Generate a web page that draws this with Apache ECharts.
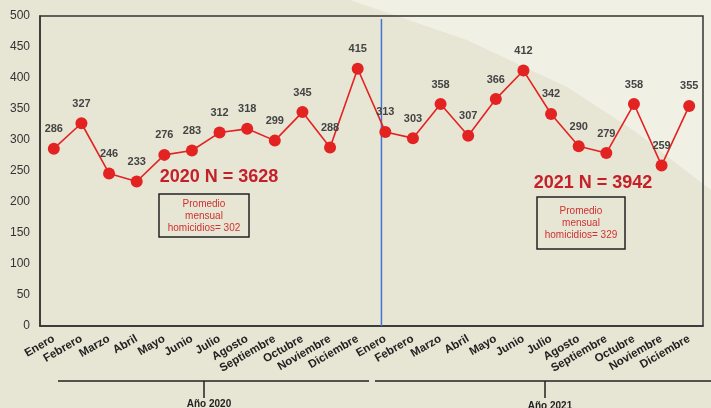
<!DOCTYPE html>
<html>
<head>
<meta charset="utf-8">
<script src="https://cdn.jsdelivr.net/npm/echarts@6/dist/echarts.min.js"></script>
<style>
  html, body { margin: 0; padding: 0; background: #e7e6d4; }
  #chart { width: 711px; height: 408px; }
</style>
</head>
<body>
<div id="chart"></div>
<script>
const months = ['Enero', 'Febrero', 'Marzo', 'Abril', 'Mayo', 'Junio', 'Julio', 'Agosto',
  'Septiembre', 'Octubre', 'Noviembre', 'Diciembre']
const categories = months.concat(months)
const values2020 = [286, 327, 246, 233, 276, 283, 312, 318, 299, 345, 288, 415]
const values2021 = [313, 303, 358, 307, 366, 412, 342, 290, 279, 358, 259, 355]
const homicidios = values2020.concat(values2021)
const yearLabels = ['Año 2020', 'Año 2021']
// separador entre años (posicion en eje auxiliar 0-24)
const dividerX = 12.36

const chart = echarts.init(document.getElementById('chart'))

const txt = (x, y, text, style) => ({
  type: 'text', x, y, z: 10,
  style: Object.assign({ text, fontFamily: 'Liberation Sans, Arial, sans-serif', align: 'center', verticalAlign: 'middle' }, style)
})

chart.setOption({
  backgroundColor: '#e7e6d4',
  animation: false,
  grid: { left: 40, right: 8, top: 16, bottom: 82, show: true, borderColor: '#333', borderWidth: 1.5 },
  xAxis: [
    {
      type: 'category',
      data: categories,
      boundaryGap: true,
      axisLine: { lineStyle: { color: '#333', width: 1.5 } },
      axisTick: { show: false },
      axisLabel: {
        interval: 0, rotate: 30, margin: 12,
        fontFamily: 'Liberation Sans, Arial, sans-serif',
        fontWeight: 'bold', fontSize: 11.5, color: '#222'
      }
    },
    { type: 'value', min: 0, max: 24, show: false }
  ],
  yAxis: {
    type: 'value', min: 0, max: 500, interval: 50,
    axisLine: { show: true, lineStyle: { color: '#333', width: 1.5 } },
    axisTick: { show: false },
    splitLine: { show: false },
    axisLabel: { margin: 10, fontFamily: 'Liberation Sans, Arial, sans-serif', fontSize: 12, color: '#333' }
  },
  graphic: [
    // zona clara del fondo
    {
      type: 'polygon', z: -10, silent: true,
      shape: { points: [[350, 0], [467, 40], [567, 87], [633, 130], [711, 190], [711, 0]] },
      style: { fill: '#f1f0e5' }
    },
    txt(219, 177, '2020 N = 3628', { fontSize: 18, fontWeight: 'bold', fill: '#c4202a' }),
    { type: 'rect', z: 10, shape: { x: 159, y: 194, width: 90, height: 43 }, style: { fill: 'none', stroke: '#222', lineWidth: 1.5 } },
    txt(204, 216, 'Promedio\nmensual\nhomicidios= 302', { fontSize: 10, fill: '#d03030', lineHeight: 12 }),
    txt(593, 183, '2021 N = 3942', { fontSize: 18, fontWeight: 'bold', fill: '#c4202a' }),
    { type: 'rect', z: 10, shape: { x: 537, y: 197, width: 88, height: 52 }, style: { fill: 'none', stroke: '#222', lineWidth: 1.5 } },
    txt(581, 223, 'Promedio\nmensual\nhomicidios= 329', { fontSize: 10, fill: '#d03030', lineHeight: 12 }),
    // llaves de año
    { type: 'line', shape: { x1: 58, y1: 381, x2: 369, y2: 381 }, style: { stroke: '#222', lineWidth: 1.5 } },
    { type: 'line', shape: { x1: 375, y1: 381, x2: 711, y2: 381 }, style: { stroke: '#222', lineWidth: 1.5 } },
    { type: 'line', shape: { x1: 204, y1: 381, x2: 204, y2: 398 }, style: { stroke: '#222', lineWidth: 1.5 } },
    { type: 'line', shape: { x1: 545, y1: 381, x2: 545, y2: 398 }, style: { stroke: '#222', lineWidth: 1.5 } },
    txt(209, 404, yearLabels[0], { fontSize: 10, fontWeight: 'bold', fill: '#222' }),
    txt(550, 406, yearLabels[1], { fontSize: 10, fontWeight: 'bold', fill: '#222' })
  ],
  series: [
    {
      type: 'line',
      xAxisIndex: 1,
      data: [[dividerX, 0], [dividerX, 495]],
      showSymbol: false,
      silent: true,
      itemStyle: { color: '#3f74d6' },
      lineStyle: { color: '#3f74d6', width: 1.5 },
      z: 1
    },
    {
      type: 'line',
      data: homicidios,
      symbol: 'circle',
      symbolSize: 12,
      itemStyle: { color: '#e32222' },
      lineStyle: { color: '#e32222', width: 1.6 },
      label: {
        show: true, position: 'top', distance: 8,
        fontFamily: 'Liberation Sans, Arial, sans-serif',
        fontSize: 11, fontWeight: 'bold', color: '#444'
      },
      z: 3
    }
  ]
})
</script>
</body>
</html>
